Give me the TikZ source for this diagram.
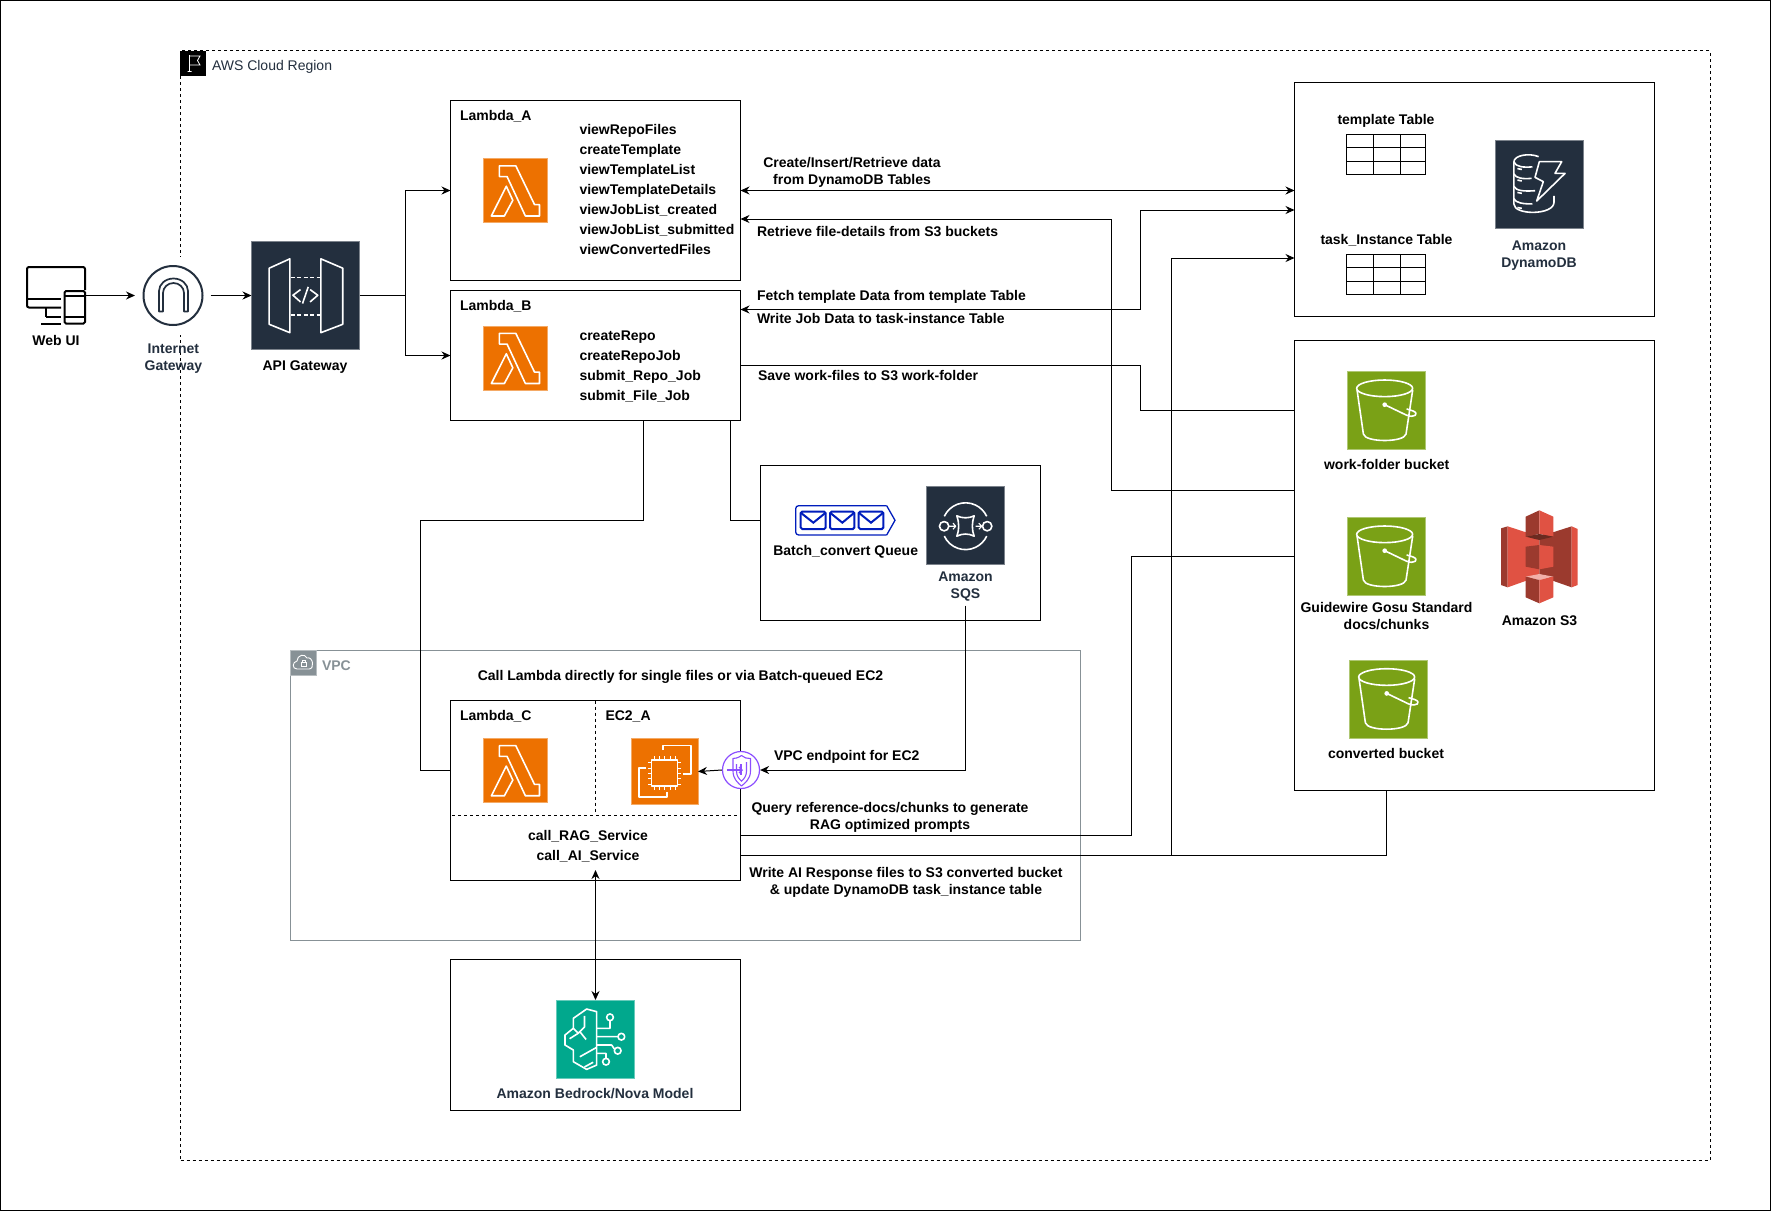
\documentclass[tikz,border=0pt]{standalone}
\usepackage{fontspec}
\setmainfont{Liberation Sans}
\usetikzlibrary{arrows.meta}
\definecolor{awsdark}{HTML}{232F3E}
\definecolor{lamorange}{HTML}{ED7100}
\definecolor{s3green}{HTML}{7AA116}
\definecolor{teal}{HTML}{01A88D}
\definecolor{vpcgray}{HTML}{879196}
\definecolor{epurple}{HTML}{8C4FFF}
\definecolor{qblue}{HTML}{001DBC}
\definecolor{s3light}{HTML}{E05243}
\definecolor{s3dark}{HTML}{9B3A2E}
\definecolor{s3darker}{HTML}{6B2A20}
\definecolor{s3pale}{HTML}{F2B0A9}
\tikzset{
  boxst/.style={draw=black,line width=1pt,fill=white,inner sep=0pt,outer sep=0pt,rectangle},
  iconbg/.style={draw=#1!60!white,fill=#1,line width=.8pt,inner sep=0pt,outer sep=0pt,rectangle},
  conn/.style={draw=black,line width=1pt},
  arr/.style={conn,-{Stealth[length=9pt,width=8pt]}},
  arrb/.style={conn,{Stealth[length=9pt,width=8pt]}-{Stealth[length=9pt,width=8pt]}},
  glyph/.style={draw=white,line width=1.6pt,line join=round},
  lab/.style={inner sep=0pt,outer sep=0pt,align=center,text=black,text height=10pt,text depth=3pt,yshift=-1.8pt,font=\fontsize{14}{17}\selectfont\bfseries},
  ml/.style={yshift=-8.2pt},
  labl/.style={lab,anchor=west,align=left},
  awslab/.style={lab,text=awsdark},
  listl/.style={inner sep=0pt,outer sep=0pt,anchor=north west,align=left,font=\fontsize{14}{20}\selectfont\bfseries},
}
\newcommand\pxbox[6][]{\node[boxst,#1,minimum width={#5-#3},minimum height={#6-#4}] (#2) at ({(#3+#5)/2},{(#4+#6)/2}) {};}
\newcommand\pxicon[6]{\node[iconbg=#1,minimum width={#5-#3},minimum height={#6-#4}] (#2) at ({(#3+#5)/2},{(#4+#6)/2}) {};}
\newcommand\glyphat[4]{\begin{scope}[shift={(#2,#3)},x=#4pt,y=-#4pt]#1\end{scope}}
\newcommand\lambdaglyph{%
  \draw[glyph] (.254,.114)--(.509,.114)--(.799,.715)--(.876,.715)--(.876,.891)--(.657,.891)--(.373,.28)--(.254,.28)--cycle;
  \draw[glyph] (.361,.43)--(.462,.648)--(.331,.891)--(.13,.891)--cycle;}
\newcommand\bucketglyph{%
  \draw[glyph] (.48,.217) ellipse (.357 and .106);
  \draw[glyph] (.128,.238)--(.209,.80) .. controls (.23,.91) and (.73,.91) .. (.753,.80)--(.838,.238);
  \fill[white] (.481,.426) circle (.03);
  \draw[glyph] (.481,.426)--(.76,.56) .. controls (.86,.60) and (.93,.54) .. (.84,.505)--(.76,.48);}
\begin{document}
\begin{tikzpicture}[x=1pt,y=-1pt]
\useasboundingbox (0,0) rectangle (1771,1211);
\node[boxst,minimum width=1770pt,minimum height=1210pt] (outer) at (885.5,605.5) {};
% Region
\pxbox[dash pattern=on 3pt off 3pt]{region}{180.5}{50.5}{1710}{1160}
\node[fill=black,inner sep=0pt,minimum width=25.5pt,minimum height=25pt] (flag) at (193.2,63) {};
\draw[white,line width=.8pt] (189.4,55)--(189.4,71.5) (187.5,71.5)--(191.5,71.5) (189.4,56)--(200,56)--(197.5,60.5)--(200,65)--(189.4,65);
\node[lab,anchor=west,font=\fontsize{14}{17}\selectfont,text=awsdark] (regionlab) at (212,65) {AWS Cloud Region};
% VPC
\pxbox[draw=vpcgray,fill=none]{vpc}{290.5}{650}{1080.5}{940.5}
\pxicon{vpcgray}{vpcicon}{290.5}{650}{316}{675}
\draw[white,line width=.9pt] (297,669) .. controls (292,669) and (292,662) .. (297,661) .. controls (297,655) and (305,653) .. (307,658) .. controls (313,656) and (315,669) .. (309,669) -- cycle;
\draw[white,line width=.7pt] (301,662.5) rectangle (306,666.5) (302,662.5) -- (302,660.5) -- (305,660.5) -- (305,662.5);
\node[lab,anchor=west,text=vpcgray] (vpclab) at (322,665) {VPC};
\node[lab] (calllab) at (680.5,675) {Call Lambda directly for single files or via Batch-queued EC2};
% Web UI
\draw[black,line width=2pt,rounded corners=2pt] (61,307.5)--(27,307.5)--(27,267)--(85,267)--(85,290);
\draw[black,line width=2pt] (27,299)--(61,299) (46,308)--(46,317) (41,323.5)--(61,323.5) (46,317)--(61,317);
\draw[black,line width=2pt,rounded corners=1.5pt] (64.5,291)--(85,291)--(85,323.5)--(64.5,323.5)--cycle;
\draw[black,line width=2pt] (64.5,296)--(85,296) (64.5,316.5)--(85,316.5);
\node[inner sep=0pt,minimum width=59pt,minimum height=60pt] (webicon) at (56,295.5) {};
\node[lab] (weblab) at (56,340) {Web UI};
% Internet gateway
\node[fill=white,inner sep=0pt,minimum width=62pt,minimum height=78pt] (igwbg) at (173,296) {};
\node[draw=awsdark,line width=2pt,circle,fill=white,inner sep=0pt,minimum size=59pt] (igw) at (173,295.5) {};
\draw[awsdark,line width=1.7pt,line join=round] (159,311.5)--(159,291) arc[start angle=180,end angle=360,x radius=14.5,y radius=12.5]--(188,311.5)--(184,311.5)--(184,293) arc[start angle=0,end angle=-180,x radius=10.5,y radius=10]--(163,311.5)--cycle;
\node[awslab,ml] (igwlab) at (173.4,356.5) {Internet\\Gateway};
% API gateway
\pxicon{awsdark}{apigw}{251.5}{241.5}{359.5}{349.5}
\glyphat{
  \draw[glyph] (.353,.16)--(.353,.84)--(.163,.763)--(.163,.246)--cycle;
  \draw[glyph] (.64,.16)--(.64,.84)--(.841,.763)--(.841,.246)--cycle;
  \draw[glyph,dash pattern=on 4pt off 2.5pt] (.36,.332)--(.64,.332) (.36,.68)--(.64,.68);
  \draw[glyph] (.452,.443)--(.382,.495)--(.452,.557) (.54,.443)--(.611,.495)--(.54,.557) (.523,.418)--(.47,.572);
}{251.5}{241.5}{108.5}
\node[lab] (apilab) at (305,365) {API Gateway};
% Lambda A
\pxbox{lamA}{450.5}{100.5}{740.5}{280.5}
\node[labl] (lamAlab) at (460,115) {Lambda\_A};
\pxicon{lamorange}{lamAicon}{483}{158.5}{547.5}{222.7}
\glyphat{\lambdaglyph}{483}{158.5}{64.5}
\node[listl] (lamAlist) at (579.5,124.8) {viewRepoFiles\\createTemplate\\viewTemplateList\\viewTemplateDetails\\viewJobList\_created\\viewJobList\_submitted\\viewConvertedFiles};
% Lambda B
\pxbox{lamB}{450.5}{290.5}{740.5}{420.5}
\node[labl] (lamBlab) at (460,305) {Lambda\_B};
\pxicon{lamorange}{lamBicon}{483}{326}{547.5}{390.7}
\glyphat{\lambdaglyph}{483}{326}{64.5}
\node[listl] (lamBlist) at (579.5,330.5) {createRepo\\createRepoJob\\submit\_Repo\_Job\\submit\_File\_Job};
% DynamoDB box
\pxbox{dbbox}{1294.5}{82}{1654.5}{316.5}
\node[lab] (tpllab) at (1386,119) {template Table};
\node[boxst,minimum width=79pt,minimum height=40pt] (tpltab) at (1386.2,154.3) {};
\draw[conn] (1346.7,147.5)--(1425.7,147.5) (1346.7,161)--(1425.7,161) (1373,134.3)--(1373,174.3) (1400,134.3)--(1400,174.3);
\node[lab] (tasklab) at (1386.5,239) {task\_Instance Table};
\node[boxst,minimum width=79pt,minimum height=40pt] (tasktab) at (1386.2,274.4) {};
\draw[conn] (1346.7,267.5)--(1425.7,267.5) (1346.7,281)--(1425.7,281) (1373,254.4)--(1373,294.4) (1400,254.4)--(1400,294.4);
\pxicon{awsdark}{dbicon}{1495.3}{140.3}{1583.7}{228.7}
\glyphat{
  \draw[glyph] (.49,.185) .. controls (.38,.14) and (.21,.17) .. (.21,.245)--(.21,.72) .. controls (.21,.85) and (.664,.85) .. (.664,.70)--(.664,.63);
  \draw[glyph] (.21,.245) .. controls (.23,.30) and (.32,.31) .. (.42,.30);
  \draw[glyph] (.21,.38) .. controls (.23,.43) and (.32,.44) .. (.41,.43);
  \draw[glyph] (.21,.52) .. controls (.23,.57) and (.32,.58) .. (.45,.57);
  \draw[glyph] (.21,.66) .. controls (.23,.71) and (.32,.72) .. (.42,.72);
  \draw[glyph] (.25,.32)--(.30,.33) (.25,.45)--(.30,.46) (.25,.59)--(.30,.60) (.25,.76)--(.30,.77);
  \draw[glyph,fill=awsdark] (.498,.242)--(.751,.242)--(.675,.374)--(.789,.374)--(.468,.687)--(.543,.468)--(.449,.419)--cycle;
}{1495.3}{140.3}{88.4}
\node[awslab,ml] (dblab) at (1539,253.5) {Amazon\\DynamoDB};
% S3 box
\pxbox{sbox}{1294.5}{340.5}{1654.5}{790}
\pxicon{s3green}{wfbucket}{1347}{371.3}{1425.5}{449.7}
\glyphat{\bucketglyph}{1347}{371.3}{78.4}
\node[lab] (wflab) at (1386.7,464) {work-folder bucket};
\pxicon{s3green}{gwbucket}{1347}{517.3}{1425}{595.7}
\glyphat{\bucketglyph}{1347}{517.3}{78.4}
\node[lab,ml] (gwlab) at (1386.5,615.5) {Guidewire Gosu Standard\\docs/chunks};
\pxicon{s3green}{cvbucket}{1349}{660}{1427.5}{738.5}
\glyphat{\bucketglyph}{1349}{660}{78.4}
\node[lab] (cvlab) at (1386,753) {converted bucket};
\node[inner sep=0pt,minimum width=77pt,minimum height=93pt] (s3icon) at (1539.5,556.5) {};
\begin{scope}[shift={(1280,360)},x=.33333pt,y=-.33333pt]
  \fill[s3dark] (663,505)--(683,499)--(683,682)--(663,675)--cycle;
  \fill[s3light] (683,499)--(778,530)--(778,648)--(683,682)--cycle;
  \fill[s3dark] (778,530)--(875,499)--(875,682)--(778,648)--cycle;
  \fill[s3light] (875,499)--(893,507)--(893,675)--(875,682)--cycle;
  \fill[s3dark] (737,470)--(778,451)--(778,522)--(737,530)--cycle;
  \fill[s3light] (778,451)--(820,470)--(820,530)--(778,522)--cycle;
  \fill[s3darker] (737,530)--(778,522)--(820,530)--(778,540)--cycle;
  \fill[s3dark] (737,560)--(778,555)--(778,628)--(737,620)--cycle;
  \fill[s3light] (778,555)--(820,560)--(820,620)--(778,628)--cycle;
  \fill[s3pale] (737,650)--(778,642)--(820,650)--(778,660)--cycle;
  \fill[s3dark] (737,650)--(778,660)--(778,730)--(737,712)--cycle;
  \fill[s3light] (778,660)--(820,650)--(820,712)--(778,730)--cycle;
\end{scope}
\node[lab] (s3lab) at (1539.5,620) {Amazon S3};
% SQS box
\pxbox{sqsbox}{760.3}{465.3}{1040.3}{620.3}
\node[inner sep=0pt,minimum width=99pt,minimum height=29pt] (queue) at (845.3,520.3) {};
\begin{scope}[shift={(760,460)},x=.33333pt,y=-.33333pt]
  \draw[qblue,line width=1.3pt,rounded corners=3pt] (380,137)--(107,137)--(107,225)--(380,225);
  \draw[qblue,line width=1.3pt] (380,137)--(405,181)--(380,225);
  \draw[qblue,line width=2pt,rounded corners=1.5pt] (122,155) rectangle (197,207) (210,155) rectangle (283,207) (296,155) rectangle (370,207);
  \draw[qblue,line width=2pt] (122,158)--(160,188)--(197,158) (210,158)--(247,188)--(283,158) (296,158)--(333,188)--(370,158);
\end{scope}
\node[lab] (queuelab) at (845.7,550) {Batch\_convert Queue};
\pxicon{awsdark}{sqsicon}{926.5}{486.5}{1004.5}{564.5}
\glyphat{
  \draw[glyph] (.226,.509) circle (.06) (.778,.509) circle (.06);
  \draw[glyph] (.5,.509) ++(155:.30) arc[start angle=155,end angle=25,radius=.30];
  \draw[glyph] (.5,.509) ++(205:.30) arc[start angle=205,end angle=335,radius=.30];
  \draw[glyph] (.389,.376) .. controls (.46,.41) and (.54,.41) .. (.611,.376) .. controls (.58,.46) and (.58,.56) .. (.611,.637) .. controls (.54,.60) and (.46,.60) .. (.389,.637) .. controls (.42,.56) and (.42,.46) .. (.389,.376) -- cycle;
  \draw[glyph,line width=1.1pt] (.29,.509)--(.37,.509) (.34,.47)--(.375,.509)--(.34,.548) (.63,.509)--(.71,.509) (.67,.47)--(.71,.509)--(.67,.548);
}{926.5}{486.5}{78}
\node[awslab,ml] (sqslab) at (965.5,584.5) {Amazon\\SQS};
% Lambda C / EC2
\pxbox{lamC}{450.5}{700.5}{740.5}{880.5}
\coordinate (lamCtop) at (595.5,700.5);
\coordinate (lamCdiv) at (595.5,812);
\coordinate (divL) at (452,815.5);
\coordinate (divR) at (738,815.5);
\draw[conn,dash pattern=on 3pt off 3pt] (lamCtop)--(lamCdiv);
\draw[conn,dash pattern=on 3pt off 3pt] (divL)--(divR);
\node[labl] (lamClab) at (460,715) {Lambda\_C};
\node[labl] (ec2lab) at (605.5,715) {EC2\_A};
\pxicon{lamorange}{lamCicon}{483}{738.3}{547.5}{802.7}
\glyphat{\lambdaglyph}{483}{738.3}{64.5}
\pxicon{lamorange}{ec2icon}{631.5}{738.3}{698}{804.7}
\glyphat{
  \draw[glyph] (.30,.327) rectangle (.693,.719);
  \draw[glyph] (.472,.176)--(.472,.111)--(.894,.111)--(.894,.538)--(.77,.538);
  \draw[glyph] (.221,.45)--(.111,.45)--(.111,.879)--(.533,.879)--(.533,.804);
  \foreach \t in {.34,.42,.50,.58,.66} {
    \draw[glyph,line width=.9pt] (\t,.327)--(\t,.27) (\t,.719)--(\t,.775);
    \draw[glyph,line width=.9pt] (.30,\t+.03)--(.245,\t+.03) (.693,\t+.03)--(.75,\t+.03);
  }
}{631.5}{738.3}{66.5}
\node[lab,ml] (calls) at (588,847) {call\_RAG\_Service\\[3pt]call\_AI\_Service};
% VPC endpoint
\node[draw=epurple,line width=1.2pt,circle,fill=white,inner sep=0pt,minimum size=37pt] (vpce) at (741,770) {};
\draw[epurple,line width=1.1pt,line join=round] (741.5,755.5) .. controls (738,758) and (735,758.5) .. (733,758.5) -- (733,771) .. controls (733,779) and (738,783) .. (741.5,786) .. controls (745,783) and (750.5,779) .. (750.5,771) -- (750.5,758.5) .. controls (747,758.5) and (744,758) .. (741.5,755.5) -- cycle;
\draw[epurple,line width=1.1pt] (736.5,764) -- (736.5,771) .. controls (736.5,776) and (739,779) .. (741.5,781) .. controls (744,779) and (746.5,776) .. (746.5,771) -- (746.5,762);
\draw[epurple,line width=1.1pt] (741,764) -- (741,775);
\draw[epurple,line width=1.3pt,-{Straight Barb[length=3pt,width=6pt]}] (727,770) -- (743,770);
\node[labl] (vpcelab) at (774,755) {VPC endpoint for EC2};
% Bedrock
\pxbox{bedbox}{450.3}{959.3}{740}{1110}
\pxicon{teal}{bedicon}{556.3}{1000.3}{634.7}{1078.7}
\glyphat{
  \draw[glyph] (.515,.145)--(.387,.111)--(.217,.23)--(.217,.357)--(.111,.443)--(.111,.57)--(.217,.634)--(.217,.783)--(.387,.881)--(.515,.826)--cycle;
  \draw[glyph] (.515,.357)--(.685,.357)--(.685,.26) (.515,.464)--(.79,.464) (.515,.57)--(.706,.57)--(.74,.62) (.515,.677)--(.634,.677)--(.634,.74);
  \draw[glyph] (.685,.217) circle (.043) (.83,.464) circle (.043) (.783,.643) circle (.043) (.634,.783) circle (.043);
  \draw[glyph] (.36,.2)--(.36,.34)--(.28,.42)--(.17,.49) (.30,.40)--(.38,.50) (.515,.60)--(.30,.72) (.36,.85)--(.47,.79) (.217,.357)--(.28,.42);
}{556.3}{1000.3}{78.4}
\node[awslab] (bedlab) at (595,1093) {Amazon Bedrock/Nova Model};
% labels on connectors
\node[lab,ml] (l1) at (852,170.5) {Create/Insert/Retrieve data\\from DynamoDB Tables};
\node[labl] (l2) at (757,231) {Retrieve file-details from S3 buckets};
\node[labl] (l3) at (757,295) {Fetch template Data from template Table};
\node[labl] (l4) at (757,318) {Write Job Data to task-instance Table};
\node[labl] (l5) at (758,375) {Save work-files to S3 work-folder};
\node[lab,ml] (l6) at (890,815.5) {Query reference-docs/chunks to generate\\RAG optimized prompts};
\node[lab,ml] (l7) at (906,880.5) {Write AI Response files to S3 converted bucket\\\& update DynamoDB task\_instance table};
% anchor coordinates
\coordinate (igwIn) at (135,295.5);
\coordinate (igwOut) at (210.5,295.5);
\coordinate (apiJoin) at (405.5,295.5);
\coordinate (dbA) at (1294.5,190.5);
\coordinate (dbB) at (1294.5,210);
\coordinate (dbC) at (1294.5,258);
\coordinate (sA) at (1294.5,410.5);
\coordinate (sB) at (1294.5,490.5);
\coordinate (sC) at (1294.5,556.5);
\coordinate (lamAr) at (740.5,219);
\coordinate (lamBr1) at (740.5,309.5);
\coordinate (lamBr2) at (740.5,365.5);
\coordinate (lamBb1) at (643,420.5);
\coordinate (lamBb2) at (730.5,420.5);
\coordinate (lamCl) at (450.5,770);
\coordinate (lamCr1) at (740.5,835);
\coordinate (lamCr2) at (740.5,855.3);
\coordinate (sBottom) at (1386,790);
\coordinate (sqsL) at (760.3,520.5);
\coordinate (sqsOut) at (965.5,605.7);
\coordinate (lamCin) at (595.5,870);
\coordinate (bedTop) at (595.5,1000);
\coordinate (writeBr) at (1171,855.3);
\coordinate (elbowA) at (1111,490.5);
\coordinate (elbowB) at (1140,309.5);
\coordinate (elbowC) at (1140,365.5);
\coordinate (elbowD) at (420.5,520.5);
\coordinate (elbowE) at (1131,835);
% connectors
\draw[arr] (webicon.east) -- (igwIn);
\draw[arr] (igwOut) -- (apigw.west);
\draw[arr] (apigw.east) -- (apiJoin) |- (lamA.west);
\draw[arr] (apiJoin) |- (lamB.west);
\draw[arrb] (lamA.east) -- (dbA);
\draw[arr] (sB) -- (elbowA) |- (lamAr);
\draw[arrb] (lamBr1) -- (elbowB) |- (dbB);
\draw[conn] (lamBr2) -- (elbowC) |- (sA);
\draw[conn] (lamBb1) |- (elbowD) |- (lamCl);
\draw[conn] (lamBb2) |- (sqsL);
\draw[arr] (sqsOut) |- (vpce.east);
\draw[arr] (vpce.west) -- (ec2icon.east);
\draw[conn] (lamCr1) -- (elbowE) |- (sC);
\draw[conn] (lamCr2) -| (sBottom);
\draw[arr] (writeBr) |- (dbC);
\draw[arrb] (lamCin) -- (bedTop);
\end{tikzpicture}
\end{document}
